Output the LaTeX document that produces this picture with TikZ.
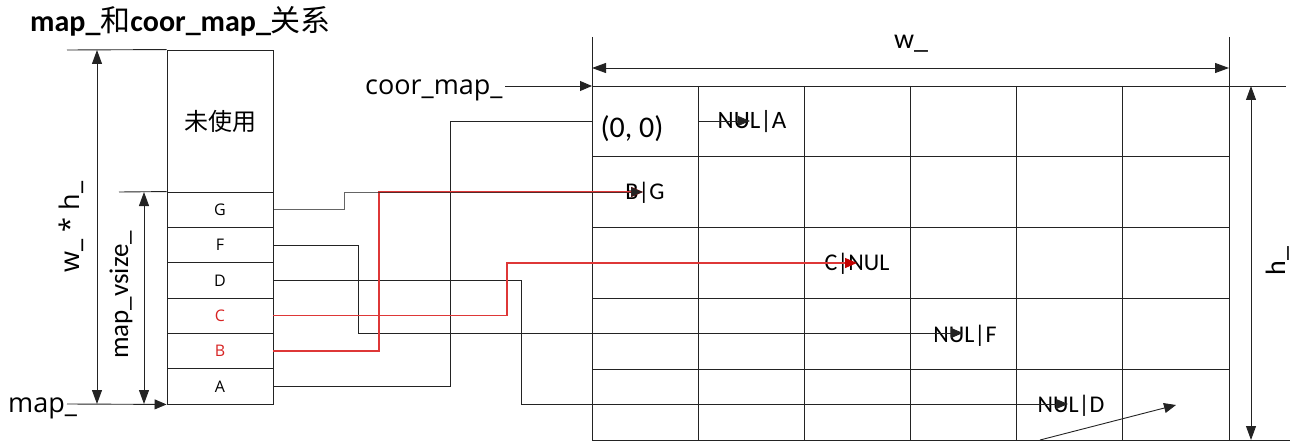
\documentclass[tikz,border=0pt]{standalone}
\usepackage{fontspec}
\setmainfont{Carlito}
\newfontfamily\os{Open Sans}
\newfontfamily\cjk{Noto Sans CJK SC}
\usetikzlibrary{arrows.meta}
\definecolor{ln}{RGB}{35,35,35}
\definecolor{rd}{RGB}{222,55,55}
\definecolor{rdtip}{RGB}{195,0,0}
\definecolor{rdtxt}{RGB}{215,35,35}
\begin{document}
\begin{tikzpicture}[x=1pt,y=-1pt,
  line/.style={draw=ln,line width=0.9pt},
  redline/.style={draw=rd,line width=1.3pt},
  tip/.style={-{Triangle[length=12pt,width=10pt]}},
  redtip/.style={-{Triangle[length=12pt,width=10pt,fill=rdtip,color=rdtip]}},
  dim/.style={line,{Triangle[length=14pt,width=10pt]}-{Triangle[length=14pt,width=10pt]}},
  slot/.style={draw=ln,line width=0.9pt,minimum width=106pt,minimum height=35.33pt,
    inner sep=0pt,font=\os\fontsize{16}{18}\selectfont},
  lbl/.style={inner sep=0pt,anchor=base},
  celltxt/.style={lbl,font=\fontsize{24}{28}\selectfont},
]
\useasboundingbox (0,0) rectangle (1301,441);

% ---------- title ----------
\node[lbl,anchor=base west,font=\fontsize{30}{34}\selectfont\bfseries] (title) at (30,32)
  {map\_{\cjk\mdseries 和}coor\_map\_{\cjk\mdseries 关系}};

% ---------- map_ array ----------
\node[slot,minimum height=142pt] (unused) at (220,121) {\cjk\fontsize{24}{28}\selectfont 未使用};
\node[slot] (rowG) at (220,209.67) {G};
\node[slot] (rowF) at (220,245) {F};
\node[slot] (rowD) at (220,280.33) {D};
\node[slot,text=rdtxt] (rowC) at (220,315.67) {C};
\node[slot,text=rdtxt] (rowB) at (220,351) {B};
\node[slot] (rowA) at (220,386.33) {A};

% extension lines and sizes of the array
\coordinate (eTop) at (67,50);
\coordinate (eMid) at (119,192);
\coordinate (mapIn) at (67,404);
\draw[line] (eTop) -- (unused.north west);
\draw[line] (eMid) -- (rowG.north west);
\draw[line,tip] (mapIn) -- (rowA.south west);
\coordinate (wh1) at (97,50);
\coordinate (wh2) at (97,404);
\draw[dim] (wh1) -- (wh2);
\coordinate (vs1) at (144,192);
\coordinate (vs2) at (144,404);
\draw[dim] (vs1) -- (vs2);
\node[lbl,rotate=90,font=\os\fontsize{27}{30}\selectfont] (whl) at (79,227) {w\_ * h\_};
\node[lbl,rotate=90,font=\fontsize{27}{30}\selectfont] (vsl) at (128,295) {map\_vsize\_};
\node[lbl,anchor=base west,font=\os\fontsize{27}{30}\selectfont] (mapl) at (8,412) {map\_};

% ---------- coor_map_ grid ----------
\foreach \i in {0,...,6} \draw[line] ({592+\i*106.17},86) -- ({592+\i*106.17},440);
\foreach \j in {1,...,4} \draw[line] (592,{86+\j*70.8}) -- (1229,{86+\j*70.8});
\coordinate (gNW) at (592,86);
\coordinate (gNE) at (1286,86);
\coordinate (gSW) at (592,440);
\coordinate (gSE) at (1290,440);
\draw[line] (gNW) -- (gNE);
\draw[line] (gSW) -- (gSE);

% width and height of the grid
\coordinate (wx1) at (592,37);
\coordinate (wx2) at (1229,37);
\draw[line] (wx1) -- (gNW);
\draw[line] (wx2) -- (1229,86);
\coordinate (wa1) at (592,68);
\coordinate (wa2) at (1229,68);
\draw[dim] (wa1) -- (wa2);
\node[lbl,font=\fontsize{28}{32}\selectfont] (wl) at (911,49) {w\_};
\coordinate (ha1) at (1251,86);
\coordinate (ha2) at (1251,440);
\draw[dim] (ha1) -- (ha2);
\node[lbl,rotate=90,font=\fontsize{28}{32}\selectfont] (hl) at (1285,261) {h\_};

% coor_map_ pointer
\node[lbl,anchor=base west,font=\os\fontsize{27}{30}\selectfont] (cml) at (365,95) {coor\_map\_};
\coordinate (cmStart) at (505,86);
\draw[line,tip] (cmStart) -- (gNW);

% ---------- cell contents ----------
\node[lbl,font=\fontsize{30}{34}\selectfont] (c00) at (632,138) {(0, 0)};
\node[celltxt,font=\fontsize{25}{28}\selectfont] (cA) at (752,129) {NUL|A};
\node[celltxt] (cBG) at (645,199) {B|G};
\node[celltxt] (cC) at (857,270) {C|NUL};
\node[celltxt] (cF) at (965,342) {NUL|F};
\node[celltxt] (cD) at (1071,412) {NUL|D};

% ---------- connectors ----------
\coordinate (o00) at (593,121);
\coordinate (sA) at (698,121);
\coordinate (tA) at (750,121);
\coordinate (tBG) at (643,192);
\coordinate (tC) at (857,263);
\coordinate (tF) at (963,333);
\coordinate (tD) at (1068,404);
\coordinate (jG) at (344,192);
\coordinate (jB) at (379,192);
\coordinate (jF) at (358,333);
\coordinate (jD) at (521,404);
\coordinate (jC) at (507,263);
\coordinate (jA) at (450,121);

\draw[line] (rowA.east) -| (jA) -- (o00);
\draw[line,tip] (sA) -- (tA);
\draw[line,tip] (rowF.east) -| (jF) -- (tF);
\draw[line,tip] (rowD.east) -| (jD) -- (tD);
\draw[redline,redtip] (rowC.east) -| (jC) -- (tC);
\draw[redline,redtip] (rowB.east) -| (jB) -- (tBG);
\draw[line,tip,draw opacity=0.7] (rowG.east) -| (jG) -- (tBG);

\coordinate (dS) at (1040,440);
\coordinate (dE) at (1176,405);
\draw[line,tip] (dS) -- (dE);
\end{tikzpicture}
\end{document}
